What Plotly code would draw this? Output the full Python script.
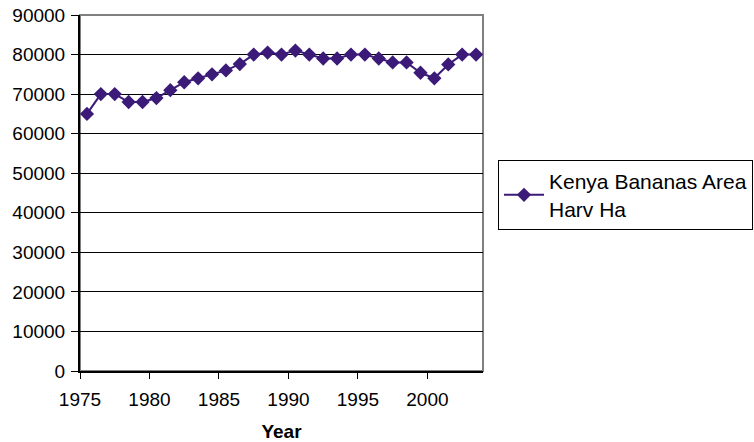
import plotly.graph_objects as go

# Kenya banana area harvested (hectares), one value per year
years = list(range(1975, 2004))
area_ha = [65000, 70000, 70000, 68000, 68000, 69000, 71000, 73000, 74000, 75000,
           76000, 77600, 80000, 80500, 80000, 81000, 80000, 79000, 79000, 80000,
           80000, 79000, 78000, 78000, 75400, 74000, 77500, 80000, 80000]

x_ticks = [1975, 1980, 1985, 1990, 1995, 2000]
y_ticks = list(range(0, 90001, 10000))

purple = "#3B1A78"
font = dict(family="Liberation Sans, Arial, sans-serif", size=19, color="black")

fig = go.Figure()
fig.add_trace(go.Scatter(
    x=[y + 0.5 for y in years],  # annual values plotted at mid-year
    y=area_ha,
    mode="lines+markers",
    name="Kenya Bananas Area<br>Harv Ha",
    line=dict(color=purple, width=2),
    marker=dict(symbol="diamond", size=11, color=purple),
))

# gray frame around the plotting area
fig.add_shape(type="rect", xref="paper", yref="paper", x0=0, y0=0, x1=1, y1=1,
              line=dict(color="#808080", width=2), layer="below")

fig.update_layout(
    width=754, height=442,
    margin=dict(l=80, r=271, t=15, b=71, autoexpand=False),
    paper_bgcolor="white", plot_bgcolor="white",
    font=font,
    showlegend=True,
    legend=dict(xref="container", yref="container", x=498 / 754, y=1 - 160 / 442,
                xanchor="left", yanchor="top",
                bordercolor="black", borderwidth=1, bgcolor="white",
                font=dict(size=21), tracegroupgap=0, itemwidth=40),
)
fig.update_xaxes(
    range=[1975, 2004], tickvals=x_ticks, ticktext=[str(v) for v in x_ticks],
    showgrid=False, zeroline=False, automargin=False,
    showline=True, linecolor="black", linewidth=2,
    ticks="outside", ticklen=6, tickcolor="black", tickwidth=1,
    ticklabelstandoff=4,
    title=dict(text="<b>Year</b>", font=dict(size=19), standoff=16),
)
fig.update_yaxes(
    range=[0, 90000], tickvals=y_ticks, ticktext=[str(v) for v in y_ticks],
    showgrid=True, gridcolor="black", gridwidth=1, zeroline=False, automargin=False,
    showline=True, linecolor="black", linewidth=2,
    ticks="outside", ticklen=7, tickcolor="black", tickwidth=1,
    ticklabelstandoff=2,
)

fig.write_html("out.html")
